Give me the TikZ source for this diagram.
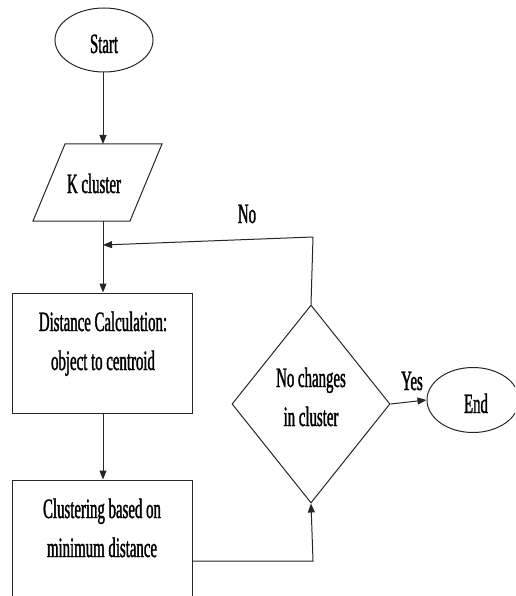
\documentclass[tikz,border=0pt]{standalone}
\usepackage{fontspec}
\setmainfont[FakeStretch=0.53,FakeBold=1.2]{Liberation Serif}
\usetikzlibrary{shapes.geometric,arrows.meta}
\tikzset{
  shp/.style={draw=black!85, line width=1pt},
  ell/.style={shp, ellipse, inner sep=0pt},
  boxn/.style={shp, rectangle, inner sep=0pt},
  dia/.style={shp, diamond, inner sep=0pt},
  txt/.style={anchor=base, inner sep=0pt, font=\fontsize{28}{34}\selectfont},
  conn/.style={draw=black!85, line width=1pt},
  arr/.style={conn, -{Triangle[length=9pt,width=7pt]}}
}
\begin{document}
\begin{tikzpicture}[x=1pt,y=-1pt]
\useasboundingbox (0,0) rectangle (515,596);
\clip (0,0) rectangle (515,596);
% shapes
\node[ell, minimum width=98pt, minimum height=64pt] (start) at (104,40) {};
\node[txt] (tstart) at (104,53) {Start};
\draw[shp] (65,144) -- (162,144) -- (130,221) -- (33,221) -- cycle;
\coordinate (kctop) at (103,144);
\coordinate (kcbot) at (103,221);
\node[txt] (tkc) at (94,193) {K cluster};
\node[boxn, minimum width=180pt, minimum height=120pt] (box1) at (102,353) {};
\node[txt] (t1a) at (103,331) {Distance Calculation:};
\node[txt] (t1b) at (103,370) {object to centroid};
\node[boxn, minimum width=180pt, minimum height=160pt] (box2) at (102,560) {};
\node[txt] (t2a) at (102,518) {Clustering based on};
\node[txt] (t2b) at (102,557) {minimum distance};
\node[dia, minimum width=158pt, minimum height=198pt] (dec) at (311,404) {};
\node[txt] (tda) at (311,387) {No changes};
\node[txt] (tdb) at (311,426) {in cluster};
\node[ell, minimum width=92pt, minimum height=65pt] (end) at (473,400) {};
\node[txt] (tend) at (476,413) {End};
% labels
\node[txt] (lno) at (247,223) {No};
\node[txt] (lyes) at (412,390) {Yes};
% connectors
\coordinate (c1) at (313,237);
\coordinate (c2) at (103,245);
\coordinate (b2out) at (192,561);
\coordinate (c3) at (313,561);
\draw[arr] (start.south -| kctop) -- (kctop);
\draw[arr] (kcbot) -- (box1.north -| kcbot);
\draw[arr] (box1.south -| kcbot) -- (box2.north -| kcbot);
\draw[conn] (dec.north) -- (c1);
\draw[arr] (c1) -- (c2);
\draw[arr] (b2out) -- (c3) -- (dec.south);
\draw[arr] (dec.east) -- (end.west);
\end{tikzpicture}
\end{document}
